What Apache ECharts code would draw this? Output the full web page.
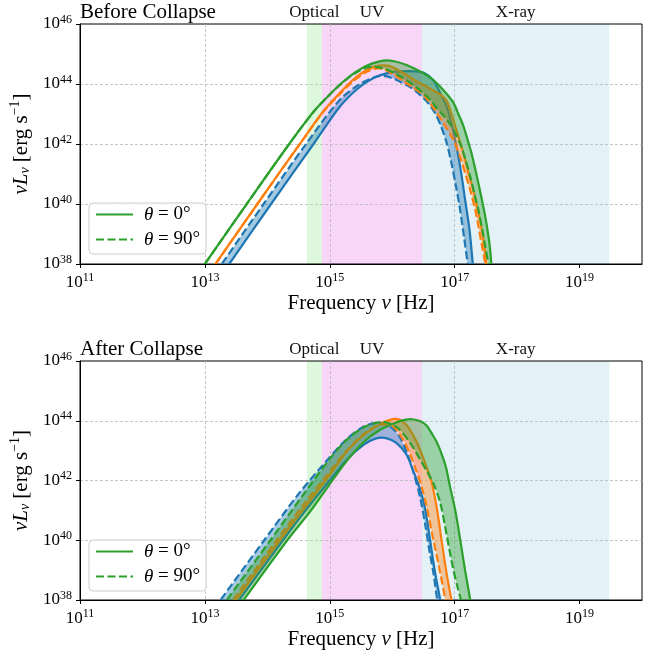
<!DOCTYPE html>
<html><head><meta charset="utf-8">
<script src="https://cdn.jsdelivr.net/npm/echarts@6/dist/echarts.min.js"></script>
<style>html,body{margin:0;padding:0;background:#fff}#c{width:659px;height:657px}</style>
</head><body><div id="c"></div>
<script>
// ---- data: pairs are [log10 frequency (Hz), log10 nuL_nu (erg/s)] ----
const xTickExps = [11, 13, 15, 17, 19];
const yTickExps = [38, 40, 42, 44, 46];
const bandNames = ['Optical', 'UV', 'X-ray'];
const bandStart = [4.28e14, 7.49e14, 3.0e16];
const bandEnd = [7.49e14, 3.0e16, 3.0e19];
const panelTitles = ['Before Collapse', 'After Collapse'];
const legendNames = ['θ = 0°', 'θ = 90°'];

// Before collapse
const bBlueSolid = [[13.29,37.7],[13.39,38.0],[14.06,40.0],[14.74,42.0],[15.16,43.24],[15.45,43.85],[15.70,44.20],[15.95,44.38],[16.15,44.42],[16.35,44.42],[16.52,44.36],[16.66,44.12],[16.77,43.69],[16.88,43.2],[16.97,42.5],[17.04,41.8],[17.10,41.1],[17.17,40.1],[17.24,39.1],[17.29,38.0],[17.31,37.6]];
const bBlueDashed = [[13.17,37.7],[13.27,38.0],[13.94,40.0],[14.62,42.0],[15.16,43.47],[15.50,44.02],[15.80,44.27],[16.0,44.2],[16.12,44.08],[16.30,43.88],[16.45,43.63],[16.58,43.35],[16.68,43.05],[16.78,42.6],[16.87,42.05],[16.95,41.35],[17.02,40.6],[17.08,39.9],[17.15,38.9],[17.21,38.0],[17.24,37.6]];
const bOrangeSolid = [[13.07,37.7],[13.17,38.0],[13.84,40.0],[14.52,42.0],[14.90,43.1],[15.16,43.7],[15.35,44.1],[15.55,44.42],[15.72,44.58],[15.85,44.62],[15.98,44.58],[16.23,44.30],[16.40,44.08],[16.55,43.91],[16.68,43.76],[16.78,43.64],[16.87,43.45],[16.95,43.0],[17.03,42.45],[17.14,41.69],[17.22,41.05],[17.30,40.45],[17.37,39.8],[17.43,39.2],[17.48,38.55],[17.51,38.0],[17.53,37.6]];
const bOrangeDashed = [[13.07,37.7],[13.17,38.0],[13.84,40.0],[14.52,42.0],[14.90,43.08],[15.16,43.66],[15.35,44.05],[15.55,44.36],[15.70,44.5],[15.85,44.50],[16.02,44.32],[16.23,44.02],[16.50,43.63],[16.66,43.2],[16.82,42.69],[16.98,42.13],[17.08,41.6],[17.17,41.02],[17.25,40.45],[17.33,39.8],[17.43,38.69],[17.49,38.0],[17.51,37.6]];
const bGreenSolid = [[12.90,37.7],[13.0,38.0],[13.67,40.0],[14.35,42.0],[14.75,43.1],[15.0,43.65],[15.2,44.05],[15.4,44.38],[15.6,44.62],[15.86,44.78],[16.05,44.75],[16.23,44.63],[16.50,44.36],[16.65,44.15],[16.77,43.91],[16.88,43.65],[16.98,43.38],[17.06,43.0],[17.14,42.6],[17.21,42.12],[17.27,41.69],[17.38,40.69],[17.49,39.58],[17.55,38.8],[17.58,38.2],[17.60,37.6]];
const bGreenDashed = [[12.90,37.7],[13.0,38.0],[13.67,40.0],[14.35,42.0],[14.75,43.1],[15.0,43.65],[15.2,44.04],[15.4,44.35],[15.59,44.54],[15.72,44.57],[15.86,44.52],[16.02,44.38],[16.18,44.19],[16.35,43.95],[16.50,43.69],[16.62,43.45],[16.71,43.2],[16.82,42.95],[16.93,42.65],[17.01,42.35],[17.09,42.0],[17.17,41.5],[17.25,40.91],[17.32,40.3],[17.38,39.8],[17.45,39.05],[17.49,38.58],[17.54,38.0],[17.56,37.6]];

// After collapse
const aBlueSolid = [[13.45,37.7],[13.55,38.0],[14.25,40.0],[14.65,41.1],[15.0,42.0],[15.27,42.69],[15.54,43.19],[15.73,43.40],[15.90,43.42],[16.07,43.25],[16.23,42.86],[16.34,42.3],[16.44,41.75],[16.52,41.13],[16.60,40.1],[16.68,39.0],[16.77,37.98],[16.80,37.6]];
const aBlueDashed = [[13.15,37.7],[13.25,38.0],[13.95,40.0],[14.50,41.55],[15.0,42.78],[15.27,43.38],[15.54,43.80],[15.75,43.93],[15.90,43.88],[16.02,43.72],[16.13,43.42],[16.25,42.85],[16.35,42.2],[16.45,41.4],[16.53,40.5],[16.60,39.6],[16.66,38.9],[16.72,38.0],[16.75,37.6]];
const aOrangeSolid = [[13.40,37.7],[13.50,38.0],[14.20,40.0],[14.60,41.1],[15.0,42.19],[15.27,42.97],[15.54,43.52],[15.80,43.88],[15.95,44.02],[16.05,44.06],[16.15,44.0],[16.25,43.8],[16.39,43.3],[16.47,42.9],[16.55,42.45],[16.63,41.95],[16.71,41.13],[16.79,40.0],[16.87,38.9],[16.95,37.98],[16.98,37.6]];
const aOrangeDashed = [[13.35,37.7],[13.45,38.0],[14.15,40.0],[14.60,41.25],[15.0,42.3],[15.27,43.0],[15.54,43.55],[15.75,43.82],[15.90,43.88],[16.02,43.8],[16.10,43.6],[16.18,43.35],[16.29,42.86],[16.39,42.3],[16.47,41.8],[16.55,41.13],[16.66,40.0],[16.77,38.9],[16.85,38.0],[16.88,37.6]];
const aGreenSolid = [[13.52,37.7],[13.62,38.0],[14.32,40.0],[14.70,41.0],[15.0,41.88],[15.27,42.65],[15.54,43.28],[15.80,43.69],[16.07,43.95],[16.20,44.03],[16.32,44.05],[16.45,43.98],[16.55,43.84],[16.64,43.55],[16.71,43.3],[16.78,42.95],[16.86,42.45],[16.93,41.75],[17.01,41.0],[17.09,40.0],[17.17,38.95],[17.25,38.0],[17.28,37.6]];
const aGreenDashed = [[13.25,37.7],[13.35,38.0],[14.05,40.0],[14.55,41.45],[15.0,42.72],[15.27,43.36],[15.54,43.78],[15.72,43.92],[15.86,43.96],[16.0,43.88],[16.12,43.7],[16.29,43.25],[16.45,42.69],[16.57,42.25],[16.66,41.9],[16.77,41.25],[16.87,40.2],[16.97,39.1],[17.05,38.4],[17.12,37.85],[17.14,37.6]];

// ---- styling ----
const FONT = 'Liberation Serif';
const C = { blue: '#1f77b4', orange: '#ff7f0e', green: '#2ca02c' };
const FILL = { blue: 'rgba(31,119,180,0.4)', orange: 'rgba(255,127,14,0.4)', green: 'rgba(44,160,44,0.4)' };
const bandColors = ['rgb(221,248,221)', 'rgb(247,214,247)', 'rgb(228,242,247)'];
const DASH = [8, 3.5];
const LW = 2.2;
const gridsPos = [{ top: 24, height: 240 }, { top: 361, height: 239 }];

const pow10 = (e) => Number('1e' + e);
const xTicks = xTickExps.map(pow10);
const yTicks = yTickExps.map(pow10);

const tickRich = {
  b: { fontFamily: FONT, fontSize: 17, color: '#000' },
  s: { fontFamily: FONT, fontSize: 12, color: '#000', padding: [0, 0, 9, 0] }
};
const expLabel = (v) => '{b|10}{s|' + Math.round(Math.log10(v)) + '}';
const toXY = (p) => [Math.pow(10, p[0]), Math.pow(10, p[1])];

function makeBand(gi, solid, dashed, key) {
  return {
    type: 'custom', xAxisIndex: gi, yAxisIndex: gi, clip: true, silent: true,
    data: [[1e15, 1e42]],
    renderItem: function (params, api) {
      const s = solid.map(p => api.coord(toXY(p)));
      const d = dashed.map(p => api.coord(toXY(p)));
      return {
        type: 'group',
        children: [
          { type: 'polyline', shape: { points: s, smooth: 0.3 }, style: { stroke: C[key], lineWidth: LW, fill: null } },
          { type: 'polyline', shape: { points: d, smooth: 0.3 }, style: { stroke: C[key], lineWidth: LW, lineDash: DASH, fill: null } },
          { type: 'polygon', shape: { points: s.concat(d.slice().reverse()), smooth: 0.3 }, style: { fill: FILL[key], stroke: null } }
        ]
      };
    }
  };
}

const grid = [], xAxis = [], yAxis = [], series = [], title = [], legend = [];
gridsPos.forEach((g, i) => {
  grid.push({ left: 80, top: g.top, width: 562, height: g.height, show: true, borderColor: '#000', borderWidth: 1, backgroundColor: 'transparent' });
  xAxis.push({
    type: 'log', logBase: 10, gridIndex: i, min: 1e11, max: 1e20,
    axisLine: { show: true, onZero: false, lineStyle: { color: '#000', width: 1 } },
    axisTick: { show: true, inside: false, length: 4, customValues: xTicks, lineStyle: { color: '#000', width: 1 } },
    axisLabel: { customValues: xTicks, formatter: expLabel, margin: 8, rich: tickRich },
    splitLine: { show: true, showMinLine: false, showMaxLine: false, lineStyle: { color: '#b8b8b8', width: 0.8, type: [3, 2] } },
    minorTick: { show: false }, minorSplitLine: { show: false },
    name: '{r|Frequency }{i|ν}{r| [Hz]}', nameLocation: 'middle', nameGap: 29,
    nameTextStyle: { rich: {
      r: { fontFamily: FONT, fontSize: 21, color: '#000' },
      i: { fontFamily: FONT, fontSize: 21, fontStyle: 'italic', color: '#000' } } }
  });
  yAxis.push({
    type: 'log', logBase: 10, gridIndex: i, min: 1e38, max: 1.000001e46,
    axisLine: { show: true, onZero: false, lineStyle: { color: '#000', width: 1 } },
    axisTick: { show: true, inside: false, length: 4, customValues: yTicks, lineStyle: { color: '#000', width: 1 } },
    axisLabel: { customValues: yTicks, formatter: expLabel, margin: 8, rich: tickRich },
    splitLine: { show: true, showMinLine: false, showMaxLine: false, lineStyle: { color: '#b8b8b8', width: 0.8, type: [3, 2] } },
    minorTick: { show: false }, minorSplitLine: { show: false },
    name: '{i|νL}{sub|ν}{r| [erg s}{sup|−1}{r|]}', nameLocation: 'middle', nameGap: 41,
    nameTextStyle: { rich: {
      r: { fontFamily: FONT, fontSize: 21, color: '#000' },
      i: { fontFamily: FONT, fontSize: 21, fontStyle: 'italic', color: '#000' },
      sub: { fontFamily: FONT, fontSize: 14, fontStyle: 'italic', color: '#000', padding: [8, 0, 0, 0] },
      sup: { fontFamily: FONT, fontSize: 14, color: '#000', padding: [0, 0, 11, 0] } } }
  });
  title.push({ text: panelTitles[i], left: 80, top: g.top - 22, padding: 0,
    textStyle: { fontFamily: FONT, fontSize: 21, fontWeight: 'normal', color: '#000' } });
  legend.push({
    data: legendNames, orient: 'vertical', left: 89, top: g.top + 179,
    padding: [2, 6, 5, 6], itemGap: 6, itemWidth: 37, itemHeight: 14,
    backgroundColor: 'rgba(255,255,255,0.8)', borderColor: '#cccccc', borderWidth: 1, borderRadius: 4,
    itemStyle: { opacity: 0, borderWidth: 0 },
    formatter: (n) => n.replace('θ', '{i|θ}'),
    textStyle: { fontFamily: FONT, fontSize: 19, color: '#000',
      rich: { i: { fontFamily: FONT, fontSize: 19, fontStyle: 'italic', color: '#000', padding: [0, 0, 0, 6] } } },
    selectedMode: false
  });
  // shaded wavelength bands with labels above the panel
  series.push({
    type: 'line', xAxisIndex: i, yAxisIndex: i, data: [], silent: true,
    markArea: {
      z: -1, silent: true,
      label: { show: true, position: 'top', distance: 3, fontFamily: FONT, fontSize: 17, color: '#111' },
      data: bandNames.map((n, k) => [
        { name: n, xAxis: bandStart[k], itemStyle: { color: bandColors[k] } },
        { xAxis: bandEnd[k] }
      ])
    }
  });
});

series.push(makeBand(0, bBlueSolid, bBlueDashed, 'blue'));
series.push(makeBand(0, bOrangeSolid, bOrangeDashed, 'orange'));
series.push(makeBand(0, bGreenSolid, bGreenDashed, 'green'));
series.push(makeBand(1, aBlueSolid, aBlueDashed, 'blue'));
series.push(makeBand(1, aOrangeSolid, aOrangeDashed, 'orange'));
series.push(makeBand(1, aGreenSolid, aGreenDashed, 'green'));
// legend entries
series.push({ type: 'line', name: legendNames[0], xAxisIndex: 0, yAxisIndex: 0, data: [], symbol: 'none',
  lineStyle: { color: C.green, width: LW }, itemStyle: { color: C.green } });
series.push({ type: 'line', name: legendNames[1], xAxisIndex: 0, yAxisIndex: 0, data: [], symbol: 'none',
  lineStyle: { color: C.green, width: LW, type: DASH }, itemStyle: { color: C.green } });

const chart = echarts.init(document.getElementById('c'), null, { renderer: 'canvas' });
chart.setOption({ animation: false, backgroundColor: '#fff', grid, xAxis, yAxis, title, legend, series });
</script>
</body></html>
